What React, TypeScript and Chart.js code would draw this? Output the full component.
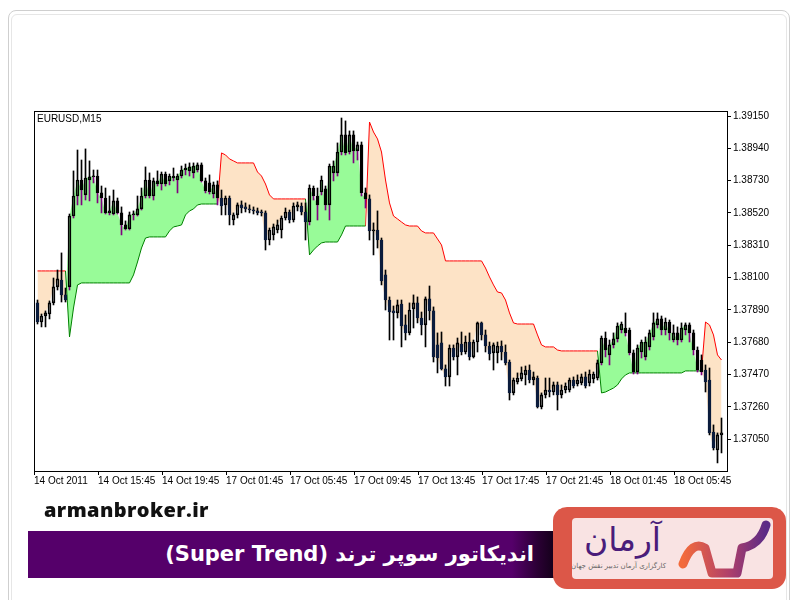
import React, { useEffect, useRef } from "react";
import { Chart, registerables } from "chart.js";

Chart.register(...registerables);

const symbolLabel = "EURUSD,M15";

const openP = [
  1.37935, 1.37811, 1.37850, 1.37863, 1.37935, 1.38039, 1.38084, 1.37987, 1.38039, 1.38500,
  1.38630, 1.38734, 1.38637, 1.38734, 1.38754, 1.38760, 1.38650, 1.38617, 1.38520, 1.38513,
  1.38598, 1.38520, 1.38442, 1.38416, 1.38507, 1.38507, 1.38546, 1.38630, 1.38734, 1.38630,
  1.38728, 1.38708, 1.38773, 1.38728, 1.38760, 1.38734, 1.38760, 1.38799, 1.38793, 1.38780,
  1.38799, 1.38832, 1.38728, 1.38715, 1.38643, 1.38702, 1.38617, 1.38572, 1.38617, 1.38474,
  1.38507, 1.38572, 1.38559, 1.38546, 1.38539, 1.38533, 1.38526, 1.38520, 1.38344, 1.38377,
  1.38409, 1.38409, 1.38487, 1.38526, 1.38474, 1.38559, 1.38565, 1.38526, 1.38461, 1.38682,
  1.38630, 1.38656, 1.38676, 1.38572, 1.38780, 1.38780, 1.38916, 1.39027, 1.38916, 1.39027,
  1.38923, 1.38962, 1.38650, 1.38611, 1.38403, 1.38409, 1.38344, 1.38117, 1.37954, 1.37883,
  1.37870, 1.37928, 1.37792, 1.37740, 1.37896, 1.37935, 1.37837, 1.37792, 1.37961, 1.37883,
  1.37662, 1.37675, 1.37506, 1.37454, 1.37642, 1.37584, 1.37668, 1.37616, 1.37681, 1.37584,
  1.37681, 1.37805, 1.37727, 1.37655, 1.37610, 1.37610, 1.37655, 1.37616, 1.37551, 1.37350,
  1.37421, 1.37441, 1.37467, 1.37499, 1.37434, 1.37447, 1.37259, 1.37337, 1.37369, 1.37356,
  1.37402, 1.37337, 1.37369, 1.37369, 1.37434, 1.37408, 1.37415, 1.37454, 1.37415, 1.37441,
  1.37447, 1.37545, 1.37707, 1.37597, 1.37662, 1.37701, 1.37759, 1.37772, 1.37759, 1.37610,
  1.37486, 1.37616, 1.37584, 1.37649, 1.37714, 1.37792, 1.37831, 1.37759, 1.37811, 1.37694,
  1.37740, 1.37694, 1.37759, 1.37792, 1.37740, 1.37629, 1.37564, 1.37499, 1.37434, 1.37096,
  1.36979, 1.37077,
];

const highP = [
  1.37954, 1.37863, 1.37883, 1.37948, 1.38097, 1.38149, 1.38260, 1.38032, 1.38513, 1.38793,
  1.38929, 1.38864, 1.38936, 1.38858, 1.38799, 1.38799, 1.38695, 1.38682, 1.38630, 1.38669,
  1.38617, 1.38559, 1.38468, 1.38526, 1.38533, 1.38630, 1.38682, 1.38819, 1.38780, 1.38747,
  1.38793, 1.38786, 1.38786, 1.38773, 1.38812, 1.38773, 1.38825, 1.38838, 1.38845, 1.38845,
  1.38845, 1.38845, 1.38747, 1.38767, 1.38721, 1.38728, 1.38669, 1.38630, 1.38630, 1.38520,
  1.38585, 1.38598, 1.38585, 1.38572, 1.38559, 1.38552, 1.38539, 1.38533, 1.38422, 1.38448,
  1.38474, 1.38500, 1.38552, 1.38539, 1.38585, 1.38591, 1.38585, 1.38585, 1.38702, 1.38695,
  1.38682, 1.38760, 1.38695, 1.38838, 1.38858, 1.38975, 1.39137, 1.39118, 1.39053, 1.39053,
  1.38981, 1.38981, 1.38682, 1.38637, 1.38455, 1.38533, 1.38357, 1.38149, 1.37974, 1.37915,
  1.37954, 1.37954, 1.37857, 1.37935, 1.37987, 1.37974, 1.37876, 1.37974, 1.38045, 1.37909,
  1.37740, 1.37746, 1.37532, 1.37662, 1.37662, 1.37707, 1.37746, 1.37720, 1.37740, 1.37694,
  1.37811, 1.37811, 1.37759, 1.37681, 1.37675, 1.37681, 1.37688, 1.37662, 1.37564, 1.37447,
  1.37480, 1.37519, 1.37525, 1.37532, 1.37486, 1.37460, 1.37350, 1.37447, 1.37447, 1.37421,
  1.37421, 1.37402, 1.37415, 1.37447, 1.37454, 1.37467, 1.37473, 1.37486, 1.37499, 1.37486,
  1.37564, 1.37720, 1.37746, 1.37694, 1.37740, 1.37805, 1.37811, 1.37870, 1.37772, 1.37629,
  1.37662, 1.37694, 1.37714, 1.37759, 1.37870, 1.37870, 1.37850, 1.37837, 1.37824, 1.37792,
  1.37779, 1.37805, 1.37805, 1.37805, 1.37759, 1.37649, 1.37597, 1.37532, 1.37512, 1.37142,
  1.37090, 1.37187,
];

const lowP = [
  1.37798, 1.37779, 1.37779, 1.37831, 1.37922, 1.38019, 1.37941, 1.37941, 1.38019, 1.38487,
  1.38572, 1.38572, 1.38604, 1.38598, 1.38715, 1.38585, 1.38520, 1.38513, 1.38507, 1.38507,
  1.38513, 1.38377, 1.38409, 1.38409, 1.38474, 1.38500, 1.38539, 1.38617, 1.38617, 1.38604,
  1.38695, 1.38669, 1.38695, 1.38702, 1.38728, 1.38650, 1.38747, 1.38767, 1.38760, 1.38747,
  1.38786, 1.38721, 1.38650, 1.38643, 1.38617, 1.38572, 1.38507, 1.38507, 1.38442, 1.38442,
  1.38487, 1.38520, 1.38526, 1.38520, 1.38513, 1.38507, 1.38500, 1.38279, 1.38312, 1.38344,
  1.38390, 1.38357, 1.38474, 1.38455, 1.38461, 1.38533, 1.38507, 1.38344, 1.38442, 1.38604,
  1.38474, 1.38637, 1.38539, 1.38474, 1.38728, 1.38760, 1.38897, 1.38897, 1.38903, 1.38845,
  1.38864, 1.38630, 1.38552, 1.38344, 1.38247, 1.38292, 1.38052, 1.37889, 1.37694, 1.37694,
  1.37837, 1.37649, 1.37694, 1.37727, 1.37772, 1.37805, 1.37727, 1.37649, 1.37824, 1.37551,
  1.37480, 1.37499, 1.37395, 1.37395, 1.37564, 1.37467, 1.37597, 1.37603, 1.37564, 1.37577,
  1.37616, 1.37694, 1.37616, 1.37564, 1.37499, 1.37545, 1.37564, 1.37532, 1.37304, 1.37337,
  1.37408, 1.37428, 1.37402, 1.37415, 1.37402, 1.37252, 1.37246, 1.37317, 1.37324, 1.37337,
  1.37239, 1.37317, 1.37350, 1.37356, 1.37382, 1.37395, 1.37402, 1.37382, 1.37395, 1.37415,
  1.37434, 1.37532, 1.37584, 1.37532, 1.37642, 1.37681, 1.37740, 1.37720, 1.37597, 1.37473,
  1.37473, 1.37577, 1.37564, 1.37629, 1.37694, 1.37772, 1.37727, 1.37727, 1.37694, 1.37681,
  1.37662, 1.37681, 1.37727, 1.37681, 1.37597, 1.37486, 1.37467, 1.37356, 1.37077, 1.36979,
  1.36895, 1.36960,
];

const closeP = [
  1.37811, 1.37850, 1.37870, 1.37935, 1.38039, 1.38091, 1.37987, 1.37954, 1.38500, 1.38630,
  1.38734, 1.38669, 1.38747, 1.38754, 1.38760, 1.38650, 1.38617, 1.38520, 1.38533, 1.38598,
  1.38520, 1.38442, 1.38416, 1.38507, 1.38513, 1.38546, 1.38630, 1.38734, 1.38630, 1.38728,
  1.38708, 1.38773, 1.38708, 1.38760, 1.38747, 1.38760, 1.38799, 1.38812, 1.38819, 1.38825,
  1.38832, 1.38728, 1.38663, 1.38656, 1.38702, 1.38617, 1.38565, 1.38617, 1.38507, 1.38507,
  1.38572, 1.38552, 1.38546, 1.38539, 1.38533, 1.38520, 1.38520, 1.38344, 1.38409, 1.38429,
  1.38442, 1.38487, 1.38526, 1.38474, 1.38565, 1.38572, 1.38526, 1.38461, 1.38682, 1.38630,
  1.38572, 1.38734, 1.38572, 1.38825, 1.38825, 1.38916, 1.39027, 1.38910, 1.39027, 1.38923,
  1.38962, 1.38650, 1.38611, 1.38403, 1.38409, 1.38344, 1.38078, 1.37954, 1.37876, 1.37870,
  1.37922, 1.37785, 1.37740, 1.37889, 1.37935, 1.37837, 1.37792, 1.37961, 1.37883, 1.37584,
  1.37577, 1.37506, 1.37454, 1.37642, 1.37584, 1.37675, 1.37616, 1.37681, 1.37584, 1.37681,
  1.37805, 1.37727, 1.37655, 1.37603, 1.37662, 1.37655, 1.37616, 1.37545, 1.37350, 1.37434,
  1.37447, 1.37480, 1.37499, 1.37434, 1.37454, 1.37259, 1.37337, 1.37369, 1.37356, 1.37402,
  1.37337, 1.37369, 1.37395, 1.37434, 1.37395, 1.37434, 1.37454, 1.37395, 1.37473, 1.37473,
  1.37545, 1.37707, 1.37629, 1.37662, 1.37701, 1.37785, 1.37798, 1.37740, 1.37610, 1.37486,
  1.37642, 1.37681, 1.37681, 1.37740, 1.37805, 1.37831, 1.37759, 1.37811, 1.37740, 1.37740,
  1.37694, 1.37772, 1.37792, 1.37740, 1.37629, 1.37499, 1.37486, 1.37421, 1.37090, 1.36992,
  1.37077, 1.37090,
];

const superTrend = [
  1.38143, 1.38143, 1.38143, 1.38143, 1.38143, 1.38143, 1.38143, 1.38143, 1.37714, 1.37902,
  1.38052, 1.38065, 1.38065, 1.38065, 1.38065, 1.38065, 1.38065, 1.38065, 1.38065, 1.38065,
  1.38065, 1.38065, 1.38065, 1.38065, 1.38117, 1.38201, 1.38292, 1.38357, 1.38364, 1.38364,
  1.38364, 1.38364, 1.38364, 1.38403, 1.38429, 1.38435, 1.38442, 1.38507, 1.38533, 1.38546,
  1.38572, 1.38578, 1.38578, 1.38578, 1.38578, 1.38578, 1.38910, 1.38897, 1.38871, 1.38858,
  1.38845, 1.38845, 1.38845, 1.38845, 1.38845, 1.38786, 1.38760, 1.38708, 1.38637, 1.38611,
  1.38611, 1.38611, 1.38611, 1.38611, 1.38611, 1.38611, 1.38611, 1.38611, 1.38247, 1.38279,
  1.38305, 1.38325, 1.38331, 1.38331, 1.38331, 1.38331, 1.38377, 1.38435, 1.38435, 1.38435,
  1.38435, 1.38435, 1.38435, 1.39111, 1.39046, 1.39001, 1.38916, 1.38734, 1.38585, 1.38500,
  1.38481, 1.38461, 1.38442, 1.38435, 1.38435, 1.38435, 1.38403, 1.38390, 1.38390, 1.38390,
  1.38351, 1.38312, 1.38208, 1.38208, 1.38208, 1.38208, 1.38208, 1.38208, 1.38208, 1.38208,
  1.38208, 1.38208, 1.38162, 1.38104, 1.38052, 1.38006, 1.38000, 1.37954, 1.37870, 1.37805,
  1.37798, 1.37798, 1.37798, 1.37798, 1.37798, 1.37727, 1.37662, 1.37649, 1.37649, 1.37649,
  1.37629, 1.37623, 1.37623, 1.37623, 1.37623, 1.37623, 1.37623, 1.37623, 1.37623, 1.37623,
  1.37623, 1.37350, 1.37356, 1.37369, 1.37382, 1.37402, 1.37441, 1.37467, 1.37480, 1.37480,
  1.37480, 1.37480, 1.37480, 1.37480, 1.37480, 1.37480, 1.37480, 1.37480, 1.37480, 1.37480,
  1.37480, 1.37480, 1.37493, 1.37493, 1.37493, 1.37493, 1.37493, 1.37811, 1.37792, 1.37727,
  1.37597, 1.37564,
];

// [firstBar, lastBar, direction]  U = up trend (green), D = down trend (red)
const trendSegments: [number, number, string][] = [
  [0, 7, "D"],
  [8, 45, "U"],
  [46, 67, "D"],
  [68, 82, "U"],
  [83, 140, "D"],
  [141, 166, "U"],
  [167, 171, "D"],
];

const xTickBars = [0, 16, 32, 48, 64, 80, 96, 112, 128, 144, 160];
const xTickLabels = [
  "14 Oct 2011",
  "14 Oct 15:45",
  "14 Oct 19:45",
  "17 Oct 01:45",
  "17 Oct 05:45",
  "17 Oct 09:45",
  "17 Oct 13:45",
  "17 Oct 17:45",
  "17 Oct 21:45",
  "18 Oct 01:45",
  "18 Oct 05:45",
];
const yTickValues = [1.3705, 1.3726, 1.3747, 1.3768, 1.3789, 1.381, 1.3831, 1.3852, 1.3873, 1.3894, 1.3915];
const yMin = 1.368425;
const yMax = 1.391825;

const AXIS_FONT = { family: "'Liberation Sans', Arial, sans-serif", size: 10 };

function CandleChart() {
  const ref = useRef<HTMLCanvasElement | null>(null);

  useEffect(() => {
    if (!ref.current) return;
    const n = closeP.length;
    const dir: string[] = new Array(n).fill("D");
    trendSegments.forEach(([a, b, d]) => {
      for (let i = a; i <= b; i++) dir[i] = d;
    });
    const idx = closeP.map((_, i) => i);
    const isBull = (i: number) => closeP[i] >= openP[i];

    const closeLine = idx.map((i) => ({ x: i, y: closeP[i] }));
    const upLine = idx.map((i) => ({
      x: i,
      y: dir[i] === "U" || dir[i + 1] === "U" ? superTrend[i] : null,
    }));
    const downLine = idx.map((i) => ({
      x: i,
      y: dir[i] === "D" || dir[i + 1] === "D" ? superTrend[i] : null,
    }));
    const upperWick = idx.map((i) => ({ x: i, y: [Math.max(openP[i], closeP[i]), highP[i]] }));
    const lowerWick = idx.map((i) => ({ x: i, y: [lowP[i], Math.min(openP[i], closeP[i])] }));
    const bodies = idx.map((i) => ({ x: i, y: [openP[i], closeP[i]] }));

    const bearColor = (i: number) => (dir[i] === "U" ? "#000000" : "#0b1c3c");
    const lowerWickColor = idx.map((i) => (dir[i] === "U" ? "#800080" : "#000000"));

    const framePlugin = {
      id: "mtFrame",
      afterDraw(chart: any) {
        const { ctx, chartArea: a } = chart;
        ctx.save();
        ctx.strokeStyle = "#000";
        ctx.lineWidth = 1;
        const l = Math.round(a.left) + 0.5;
        const t = Math.round(a.top) + 0.5;
        const r = Math.round(a.right) + 0.5;
        const b = Math.round(a.bottom) + 0.5;
        ctx.strokeRect(l, t, r - l, b - t);
        ctx.fillStyle = "#000";
        ctx.font = "10px 'Liberation Sans', Arial, sans-serif";
        ctx.textBaseline = "top";
        ctx.fillText(symbolLabel, a.left + 3, a.top + 3);
        ctx.restore();
      },
    };

    const chart = new Chart(ref.current, {
      type: "bar",
      data: {
        datasets: [
          {
            type: "line",
            data: closeLine,
            borderColor: "rgba(0,0,0,0)",
            borderWidth: 1,
            pointRadius: 0,
            fill: false,
            order: 20,
          } as any,
          {
            type: "line",
            data: upLine,
            borderColor: "#008000",
            borderWidth: 1,
            pointRadius: 0,
            tension: 0,
            spanGaps: false,
            fill: { target: 0, above: "#98fb98", below: "#98fb98" },
            order: 10,
          } as any,
          {
            type: "line",
            data: downLine,
            borderColor: "#ff0000",
            borderWidth: 1,
            pointRadius: 0,
            tension: 0,
            spanGaps: false,
            fill: { target: 0, above: "#fde3c6", below: "#fde3c6" },
            order: 10,
          } as any,
          {
            type: "bar",
            data: upperWick,
            backgroundColor: "#000000",
            borderWidth: 0,
            barThickness: 1,
            grouped: false,
            order: 3,
          } as any,
          {
            type: "bar",
            data: lowerWick,
            backgroundColor: lowerWickColor,
            borderWidth: 0,
            barThickness: 1,
            grouped: false,
            order: 2,
          } as any,
          {
            type: "bar",
            data: bodies,
            backgroundColor: idx.map((i) => (isBull(i) ? "rgba(0,0,0,0)" : bearColor(i))),
            borderColor: idx.map((i) => (isBull(i) ? "#000000" : bearColor(i))),
            borderWidth: 1,
            borderSkipped: false,
            minBarLength: 1,
            barThickness: 3,
            grouped: false,
            order: 1,
          } as any,
        ],
      },
      options: {
        animation: false,
        responsive: false,
        maintainAspectRatio: false,
        events: [],
        layout: { padding: { left: 34, top: 111, right: 0, bottom: 9 } },
        plugins: {
          legend: { display: false },
          tooltip: { enabled: false },
          title: { display: false },
        },
        scales: {
          x: {
            type: "linear",
            min: -0.875,
            max: 172.375,
            offset: false,
            border: { display: false },
            grid: {
              display: true,
              drawOnChartArea: false,
              drawTicks: true,
              tickLength: 4,
              color: "#000",
              offset: false,
            },
            afterBuildTicks: (s: any) => {
              s.ticks = xTickBars.map((b) => ({ value: b - 0.875 }));
            },
            afterFit: (s: any) => {
              s.height = 20;
            },
            ticks: {
              autoSkip: false,
              maxRotation: 0,
              minRotation: 0,
              align: "start",
              padding: 0,
              color: "#000",
              font: AXIS_FONT,
              callback: (_v: any, i: number) => xTickLabels[i],
            },
          } as any,
          y: {
            type: "linear",
            position: "right",
            min: yMin,
            max: yMax,
            border: { display: false },
            grid: {
              display: true,
              drawOnChartArea: false,
              drawTicks: true,
              tickLength: 4,
              color: "#000",
            },
            afterBuildTicks: (s: any) => {
              s.ticks = yTickValues.map((v) => ({ value: v }));
            },
            afterFit: (s: any) => {
              s.width = 73;
            },
            ticks: {
              autoSkip: false,
              padding: 2,
              color: "#000",
              font: AXIS_FONT,
              callback: (v: any) => Number(v).toFixed(5),
            },
          } as any,
        },
      },
      plugins: [framePlugin],
    });
    return () => chart.destroy();
  }, []);

  return (
    <canvas
      ref={ref}
      width={800}
      height={500}
      style={{ position: "absolute", left: 0, top: 0, width: 800, height: 500 }}
    />
  );
}

export default function App() {
  return (
    <div
      style={{
        position: "absolute",
        left: 0,
        top: 0,
        width: 800,
        height: 600,
        background: "#ffffff",
        overflow: "hidden",
      }}
    >
      {/* outer rounded frame */}
      <div
        style={{
          position: "absolute",
          left: 8,
          top: 10,
          width: 782,
          height: 600,
          border: "1px solid #cfcfcf",
          borderRadius: 8,
          boxSizing: "border-box",
        }}
      />
      <div
        style={{
          position: "absolute",
          left: 11,
          top: 14,
          width: 776,
          height: 600,
          border: "1px solid #e6e6e6",
          borderRadius: 6,
          boxSizing: "border-box",
        }}
      />
      <CandleChart />

      {/* site name */}
      <div
        style={{
          position: "absolute",
          left: 44,
          top: 497,
          fontFamily: "'Open Sans', 'DejaVu Sans', sans-serif",
          fontWeight: 800,
          fontSize: 20,
          color: "#111",
          lineHeight: "26px",
          letterSpacing: 0.4,
        }}
      >
        armanbroker.ir
      </div>

      {/* purple banner */}
      <div
        style={{
          position: "absolute",
          left: 28,
          top: 531,
          width: 526,
          height: 47,
          background: "linear-gradient(to right, #55006a 0%, #55006a 92%, #2a0033 97%, #14001a 100%)",
        }}
      >
        <div
          dir="rtl"
          style={{
            position: "absolute",
            right: 20,
            top: 0,
            height: 47,
            lineHeight: "46px",
            fontFamily: "'DejaVu Sans', sans-serif",
            fontWeight: 700,
            fontSize: 21,
            color: "#ffffff",
            whiteSpace: "nowrap",
          }}
        >
          اندیکاتور سوپر ترند (Super Trend)
        </div>
      </div>

      {/* logo box */}
      <div
        style={{
          position: "absolute",
          left: 553,
          top: 507,
          width: 233,
          height: 82,
          background: "#dc5748",
          borderRadius: 14,
        }}
      />
      <div
        style={{
          position: "absolute",
          left: 572,
          top: 518,
          width: 201,
          height: 61,
          background: "#f9e3e3",
          borderRadius: 4,
          overflow: "hidden",
        }}
      >
        <div
          dir="rtl"
          style={{
            position: "absolute",
            right: 112,
            top: 3,
            fontFamily: "'DejaVu Sans', sans-serif",
            fontSize: 33,
            color: "#4a1c7a",
            lineHeight: "38px",
            whiteSpace: "nowrap",
          }}
        >
          آرمان
        </div>
        <div
          dir="rtl"
          style={{
            position: "absolute",
            right: 107,
            top: 43,
            fontFamily: "'DejaVu Sans', sans-serif",
            fontSize: 7,
            color: "#666",
            lineHeight: "10px",
            whiteSpace: "nowrap",
          }}
        >
          کارگزاری آرمان تدبیر نقش جهان
        </div>
        <svg width={201} height={61} style={{ position: "absolute", left: 0, top: 0 }}>
          <defs>
            <linearGradient id="swoosh" x1="0" y1="0" x2="1" y2="0">
              <stop offset="0%" stopColor="#f36b3b" />
              <stop offset="55%" stopColor="#b0406a" />
              <stop offset="100%" stopColor="#5b2a86" />
            </linearGradient>
          </defs>
          <path
            d="M111 46 Q120 22 133 30 L140 55 L165 55 L170 30 Q188 27 194 7"
            fill="none"
            stroke="url(#swoosh)"
            strokeWidth={9}
            strokeLinecap="round"
            strokeLinejoin="round"
          />
        </svg>
      </div>
    </div>
  );
}
